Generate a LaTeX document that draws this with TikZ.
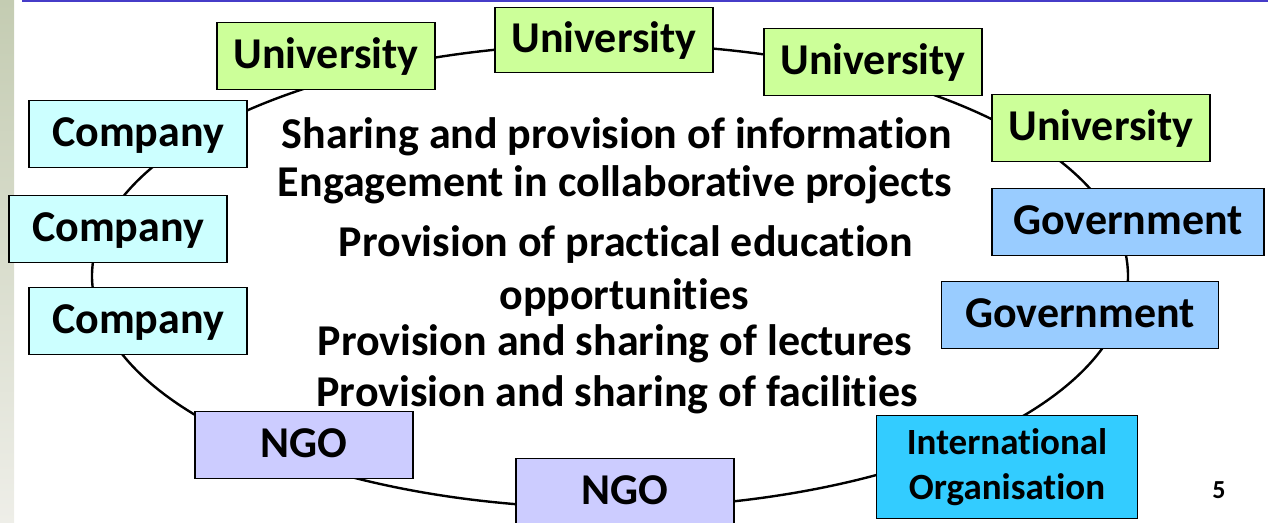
\documentclass[tikz,border=0pt]{standalone}
\usepackage{fontspec}
\setmainfont[Ligatures=NoCommon]{Carlito}
\usetikzlibrary{positioning,shapes,fit,calc}
\pgfdeclarelayer{background}
\pgfsetlayers{background,main}

\definecolor{uniGreen}{RGB}{204,255,153}
\definecolor{compCyan}{RGB}{204,255,255}
\definecolor{govBlue}{RGB}{153,204,255}
\definecolor{ngoLilac}{RGB}{204,204,255}
\definecolor{intlBlue}{RGB}{51,204,255}
\definecolor{ruleBlue}{RGB}{70,60,200}
\definecolor{stripeTop}{RGB}{196,204,178}
\definecolor{stripeBot}{RGB}{238,238,232}

\begin{document}
\begin{tikzpicture}[
      x=1pt, y=-1pt,
      actor/.style={draw,line width=1.6pt,minimum width=218pt,minimum height=67pt,
                    inner sep=2pt,text height=31pt,text depth=6pt,
                    font=\fontsize{44}{50}\selectfont\bfseries},
      uni/.style={actor,fill=uniGreen},
      comp/.style={actor,fill=compCyan},
      gov/.style={actor,fill=govBlue},
      ngo/.style={actor,fill=ngoLilac},
      intl/.style={actor,fill=intlBlue,align=center,text height=,text depth=,
                   font=\fontsize{37}{45}\selectfont\bfseries},
      activity/.style={font=\fontsize{44}{50}\selectfont\bfseries,
                       text height=31pt,text depth=10pt,inner sep=0pt}
    ]
    \useasboundingbox (0,0) rectangle (1268,522);

    % slide decoration
    \shade[top color=stripeTop,bottom color=stripeBot] (0,0) rectangle (14,522);
    \draw[ruleBlue,line width=2pt] (22,1) -- (1268,1);

    % universities
    \node[uni] (uniA) at (326,56) {University};
    \node[uni,minimum height=65pt] (uniB) at (604,40) {University};
    \node[uni] (uniC) at (873,62) {University};
    \node[uni] (uniD) at (1101,128) {University};

    % governments
    \node[gov,minimum width=272pt] (govA) at (1128,222) {Government};
    \node[gov,minimum width=277pt] (govB) at (1080,315) {Government};

    % international organisation
    \node[intl,minimum width=261pt,minimum height=103pt] (intlOrg) at (1007,467) {International\\Organisation};

    % ngos
    \node[ngo] (ngoB) at (625,492) {NGO};
    \node[ngo] (ngoA) at (304,445) {NGO};

    % companies
    \node[comp] (compC) at (138,321) {Company};
    \node[comp] (compB) at (118,229) {Company};
    \node[comp] (compA) at (138,134) {Company};

    % the activities in the middle
    \node[activity] (shareInfo) at (617,138) {Sharing and provision of information};
    \node[activity] (projects) at (615,186) {Engagement in collaborative projects};
    \node[activity] (practical) at (626,246) {Provision of practical education};
    \node[activity] (opport) at (624,299) {opportunities};
    \node[activity] (lectures) at (615,345) {Provision and sharing of lectures};
    \node[activity] (facilities) at (617,396) {Provision and sharing of facilities};

    % page number
    \node[font=\fontsize{26}{30}\selectfont\bfseries] (pageNo) at (1219,490) {5};

    % the ring behind the boxes
    \begin{pgfonlayer}{background}
      \node[draw,ellipse,line width=2.4pt,inner sep=0pt,
            minimum width=1036pt,minimum height=464pt] (ring) at (610,276) {};
    \end{pgfonlayer}
    \end{tikzpicture}
\end{document}
